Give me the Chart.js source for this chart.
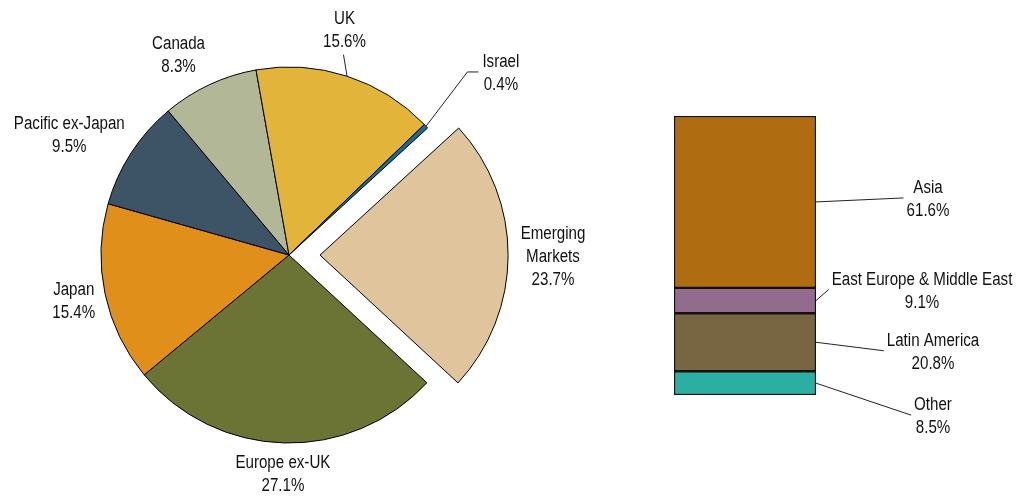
<!DOCTYPE html>
<html>
<head>
<meta charset="utf-8">
<title>Regional allocation</title>
<script src="https://cdn.jsdelivr.net/npm/chart.js@4.4.1/dist/chart.umd.min.js"></script>
<style>
  html, body { margin: 0; padding: 0; background: #fff; }
  #wrap { position: relative; width: 1017px; height: 496px; overflow: hidden; }
  #wrap canvas { position: absolute; top: 0; }
  #pieChart { left: 0; }
  #barChart { left: 600px; }
</style>
</head>
<body>
<div id="wrap">
  <canvas id="pieChart" width="1017" height="496"></canvas>
  <canvas id="barChart" width="417" height="496"></canvas>
</div>
<script>
// pie: regions clockwise, starting with the pulled-out slice
var regions = [['Emerging', 'Markets'], ['Europe ex-UK'], ['Japan'], ['Pacific ex-Japan'], ['Canada'], ['UK'], ['Israel']];
var regionWeights = [23.7, 27.1, 15.4, 9.5, 8.3, 15.6, 0.4];
var regionColors = ['#E0C49B', '#6B7434', '#E08F1A', '#3D5466', '#B2B797', '#E3B43A', '#1A6B9A'];

// bar: split of the emerging markets slice, bottom to top
var emRegions = ['Other', 'Latin America', 'East Europe & Middle East', 'Asia'];
var emWeights = [8.5, 20.8, 9.1, 61.6];
var emColors = ['#2BAFA2', '#786642', '#926C8C', '#AF6C10'];

(function () {
  'use strict';

  // the original labels are a squeezed 18px Arial
  var fontSize = 18;
  var labelFont = fontSize + 'px "Liberation Sans", Arial, sans-serif';
  var squeeze = 0.84;
  var textColor = '#111';
  var lineHeight = 23;

  // where each pie label sits: distance from centre and a small turn off the slice middle
  var pieLabelDist = [264, 218, 220, 251, 229, 233, 280];
  var pieLabelTurn = [0, 0, 0, -4.0, -3.8, -4.2, 2.4];
  var pieLeader = [null, null, null, null, null, 'below', 'left'];
  // chart.js v4 moves an arc out by offset / 4
  var pullOut = 31 * 4;

  // bar labels: offset from the bar's right edge / segment middle
  var barLabelDx = [117, 117, 106, 112];
  var barLabelDy = [32, 8.5, -11, -4];

  function pct(value) {
    return value.toFixed(1) + '%';
  }

  // lines are centred on cx, their cap middles spread around cy
  function drawBlock(ctx, lines, cx, cy) {
    var widest = 0;
    lines.forEach(function (line, i) {
      var y = cy + (i - (lines.length - 1) / 2) * lineHeight + fontSize * 0.358;
      ctx.save();
      ctx.translate(cx, y);
      ctx.scale(squeeze, 1);
      ctx.fillText(line, 0, 0);
      ctx.restore();
      widest = Math.max(widest, ctx.measureText(line).width * squeeze);
    });
    return widest;
  }

  function textSetup(ctx) {
    ctx.font = labelFont;
    ctx.fillStyle = textColor;
    ctx.strokeStyle = '#222';
    ctx.lineWidth = 1;
    ctx.textAlign = 'center';
    ctx.textBaseline = 'alphabetic';
  }

  var pieLabels = {
    id: 'pieLabels',
    afterDatasetsDraw: function (chart) {
      var ctx = chart.ctx;
      var arcs = chart.getDatasetMeta(0).data;
      ctx.save();
      textSetup(ctx);
      arcs.forEach(function (arc, i) {
        var p = arc.getProps(['x', 'y', 'startAngle', 'endAngle', 'outerRadius'], true);
        var mid = (p.startAngle + p.endAngle) / 2;
        var a = mid + pieLabelTurn[i] * Math.PI / 180;
        var cx = p.x + Math.cos(a) * pieLabelDist[i];
        var cy = p.y + Math.sin(a) * pieLabelDist[i];
        var lines = regions[i].concat(pct(regionWeights[i]));
        var widest = drawBlock(ctx, lines, cx, cy);
        var ex = p.x + Math.cos(mid) * p.outerRadius;
        var ey = p.y + Math.sin(mid) * p.outerRadius;
        if (pieLeader[i] === 'below') {
          ctx.beginPath();
          ctx.moveTo(ex, ey);
          ctx.lineTo(cx - 1, cy + lines.length * lineHeight / 2 + 3);
          ctx.stroke();
        } else if (pieLeader[i] === 'left') {
          var left = cx - widest / 2;
          ctx.beginPath();
          ctx.moveTo(ex, ey);
          ctx.lineTo(left - 15, cy);
          ctx.lineTo(left - 4, cy);
          ctx.stroke();
        }
      });
      ctx.restore();
    }
  };

  var barLabels = {
    id: 'barLabels',
    afterDatasetsDraw: function (chart) {
      var ctx = chart.ctx;
      ctx.save();
      textSetup(ctx);
      chart.data.datasets.forEach(function (ds, i) {
        var bar = chart.getDatasetMeta(i).data[0];
        var p = bar.getProps(['x', 'y', 'base', 'width'], true);
        var right = p.x + p.width / 2;
        var segMid = (p.y + p.base) / 2;
        var cx = right + barLabelDx[i];
        var cy = segMid + barLabelDy[i];
        var widest = drawBlock(ctx, [emRegions[i], pct(emWeights[i])], cx, cy);
        ctx.beginPath();
        ctx.moveTo(right, segMid);
        ctx.lineTo(cx - widest / 2 - 3, cy);
        ctx.stroke();
      });
      ctx.restore();
    }
  };

  new Chart(document.getElementById('pieChart'), {
    type: 'pie',
    data: {
      labels: regions,
      datasets: [{
        data: regionWeights,
        backgroundColor: regionColors,
        borderColor: '#000',
        borderWidth: 1,
        offset: regionWeights.map(function (v, i) { return i === 0 ? pullOut : 0; }),
        hoverOffset: 0
      }]
    },
    options: {
      responsive: false,
      animation: false,
      events: [],
      radius: 188,
      rotation: 47.5,
      layout: { padding: { left: 0, right: 439, top: 14, bottom: 0 } },
      plugins: { legend: { display: false }, tooltip: { enabled: false } }
    },
    plugins: [pieLabels]
  });

  new Chart(document.getElementById('barChart'), {
    type: 'bar',
    data: {
      labels: ['Emerging Markets'],
      datasets: emRegions.map(function (name, i) {
        return {
          label: name,
          data: [emWeights[i]],
          backgroundColor: emColors[i],
          borderColor: '#111',
          borderWidth: 1.5,
          borderSkipped: false,
          barPercentage: 1,
          categoryPercentage: 1
        };
      })
    },
    options: {
      responsive: false,
      animation: false,
      events: [],
      layout: { padding: { left: 74, right: 201, top: 116, bottom: 101 } },
      scales: {
        x: { stacked: true, display: false },
        y: { stacked: true, display: false, min: 0, max: 100 }
      },
      plugins: { legend: { display: false }, tooltip: { enabled: false } }
    },
    plugins: [barLabels]
  });
})();
</script>
</body>
</html>
